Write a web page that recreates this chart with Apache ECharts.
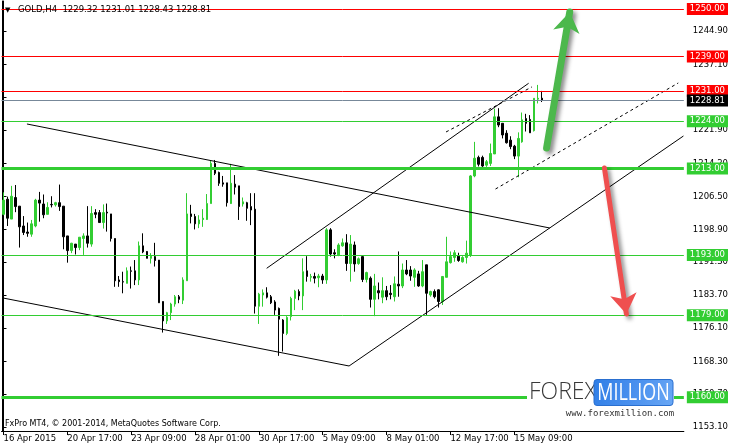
<!DOCTYPE html>
<html><head><meta charset="utf-8">
<script src="https://cdn.jsdelivr.net/npm/echarts@6/dist/echarts.min.js"></script>
<style>html,body{margin:0;padding:0;background:#fff}#c{width:731px;height:448px}</style>
</head><body><div id="c"></div><script>
// ---- data ----
const symbolName = 'GOLD,H4';
const opens = [1202.4,1205.9,1201.3,1206.3,1204.3,1199.7,1198.3,1197.8,1199.7,1205.7,1204.8,1202.4,1204.7,1204.6,1205.1,1204.3,1197.4,1194.0,1195.5,1194.7,1196.8,1197.4,1195.5,1202.8,1202.8,1200.5,1202.9,1202.5,1196.8,1187.2,1186.8,1186.4,1189.3,1189.3,1187.2,1195.1,1193.8,1192.2,1192.6,1191.8,1182.2,1177.7,1179.6,1181.6,1183.3,1182.5,1187.0,1202.5,1201.9,1200.2,1201.2,1201.2,1204.9,1214.2,1212.1,1209.7,1209.7,1204.9,1209.4,1209.0,1204.8,1205.1,1204.2,1203.6,1181.1,1183.7,1184.2,1183.3,1182.1,1180.6,1177.9,1174.8,1178.7,1182.9,1184.5,1183.5,1189.3,1187.8,1188.0,1187.7,1188.1,1187.2,1198.8,1193.5,1193.0,1195.1,1195.8,1191.0,1195.3,1191.0,1192.6,1187.3,1187.6,1182.7,1184.7,1183.2,1184.7,1184.1,1183.3,1186.2,1185.8,1189.5,1189.5,1187.8,1188.6,1185.8,1190.7,1183.7,1184.5,1184.9,1182.2,1187.8,1191.2,1192.4,1192.7,1191.4,1192.4,1193.0,1211.3,1215.6,1215.6,1213.8,1214.2,1216.4,1225.0,1223.5,1221.2,1219.6,1218.2,1215.9,1219.2,1224.6,1224.4,1221.8,1229.1,1229.32];
const highs = [1207.5,1206.5,1209.0,1209.2,1204.3,1202.0,1200.5,1201.1,1206.0,1207.6,1207.0,1205.2,1206.6,1205.3,1209.3,1204.3,1197.4,1195.8,1195.5,1197.1,1198.0,1204.3,1204.3,1203.6,1203.4,1204.7,1204.9,1202.5,1196.8,1188.1,1189.1,1190.1,1190.3,1191.8,1196.1,1198.0,1193.9,1193.4,1195.8,1191.8,1182.2,1179.8,1181.9,1183.7,1183.7,1187.8,1207.3,1204.6,1202.5,1202.2,1203.6,1207.1,1215.0,1215.0,1212.3,1211.3,1209.7,1214.1,1211.5,1209.0,1206.3,1205.3,1207.3,1207.3,1184.2,1185.0,1185.5,1183.7,1182.5,1180.8,1178.1,1178.8,1183.3,1184.9,1185.0,1192.2,1192.7,1188.6,1188.9,1188.6,1188.6,1199.2,1199.2,1194.3,1195.7,1196.8,1197.8,1197.6,1196.1,1192.4,1192.7,1189.1,1188.0,1188.6,1186.6,1187.8,1185.8,1186.0,1188.0,1193.8,1191.0,1191.8,1190.4,1189.9,1189.3,1191.8,1190.7,1184.7,1185.0,1185.0,1188.1,1197.2,1193.8,1194.1,1193.5,1192.7,1196.3,1211.5,1219.2,1216.0,1216.0,1215.0,1218.8,1226.9,1227.0,1223.5,1221.9,1220.5,1218.5,1221.4,1226.0,1225.7,1225.4,1229.3,1232.4,1231.01];
const lows = [1202.2,1199.7,1201.3,1202.9,1194.7,1197.6,1197.2,1197.2,1199.4,1200.7,1201.5,1202.4,1204.0,1204.2,1203.2,1194.3,1191.2,1193.4,1193.1,1194.1,1193.0,1194.7,1194.9,1201.5,1200.5,1199.1,1198.4,1196.1,1185.6,1185.6,1184.1,1186.4,1185.2,1186.0,1186.0,1193.4,1192.2,1191.0,1190.3,1181.9,1175.0,1177.0,1177.9,1181.0,1181.8,1181.6,1187.0,1200.3,1198.9,1199.2,1199.5,1201.1,1204.9,1211.5,1209.0,1208.8,1204.2,1204.8,1207.0,1201.1,1204.2,1200.9,1199.9,1179.4,1177.0,1181.0,1182.9,1181.6,1179.1,1169.6,1170.6,1174.4,1177.8,1180.2,1182.5,1180.2,1186.8,1186.8,1186.4,1185.5,1186.3,1186.3,1192.6,1192.2,1192.7,1194.9,1189.3,1186.8,1189.1,1190.7,1186.7,1186.6,1180.8,1178.8,1182.7,1181.8,1182.5,1182.7,1182.2,1183.3,1185.3,1188.3,1187.0,1185.6,1185.6,1185.5,1179.1,1183.3,1182.9,1180.8,1181.4,1187.8,1191.0,1191.4,1191.4,1191.2,1191.0,1192.5,1211.0,1213.5,1212.7,1213.4,1213.6,1216.4,1222.6,1220.0,1218.8,1217.5,1215.2,1211.0,1219.0,1221.6,1221.3,1221.6,1228.1,1228.43];
const closes = [1205.7,1201.5,1206.6,1204.2,1199.5,1198.2,1198.0,1200.2,1205.7,1205.0,1202.3,1204.0,1204.6,1205.1,1204.2,1197.2,1194.0,1195.7,1194.7,1197.1,1197.4,1195.7,1202.6,1202.4,1200.5,1202.8,1202.7,1196.8,1187.0,1186.8,1186.7,1189.3,1189.2,1187.2,1195.1,1193.7,1192.2,1192.7,1191.7,1181.9,1177.7,1179.6,1181.6,1183.3,1182.7,1187.2,1202.5,1201.9,1200.2,1201.1,1201.5,1204.9,1214.2,1211.9,1209.6,1209.4,1205.1,1209.6,1208.7,1204.2,1205.3,1203.8,1203.4,1181.1,1183.9,1184.2,1183.2,1181.9,1180.2,1178.1,1174.8,1178.5,1182.9,1184.6,1183.5,1189.1,1188.0,1188.0,1187.6,1188.1,1187.2,1198.8,1193.2,1193.2,1195.3,1195.8,1191.0,1195.5,1190.9,1192.1,1187.3,1188.9,1182.7,1185.8,1184.2,1184.7,1183.3,1183.8,1186.3,1185.8,1189.5,1188.6,1188.1,1189.5,1185.8,1189.1,1184.1,1184.5,1183.3,1182.2,1188.0,1191.4,1192.6,1193.5,1191.7,1192.4,1193.4,1211.3,1215.4,1214.0,1213.6,1214.6,1216.5,1225.0,1223.1,1220.8,1219.0,1218.1,1215.9,1220.0,1224.3,1223.5,1221.3,1229.3,1229.3,1228.81];
const barSlots = 171;
const tickStep = 16;
const tickLabels = ['16 Apr 2015','20 Apr 17:00','23 Apr 09:00','28 Apr 01:00','30 Apr 17:00','5 May 09:00','8 May 01:00','12 May 17:00','15 May 09:00'];
const priceTicks = [1244.9,1237.1,1229.5,1221.9,1214.2,1206.5,1198.9,1191.3,1183.7,1176.1,1168.3,1160.7,1153.1];
const priceMin = 1152.18, priceMax = 1251.85;
const redLevels = [1250, 1239, 1231];
const greenLevels = [1224, 1213, 1193, 1179, 1160];
const strongLevels = [1213, 1160];
const bidPrice = 1228.81;
const trendLines = [
  [[5.875,1223.34],[136.9,1199.23]],
  [[-0.125,1183.01],[86.6,1167.25]],
  [[86.6,1167.25],[170.4,1220.56]],
  [[65.95,1189.89],[131.6,1232.78]]
];
const dashedLines = [
  [[110.9,1221.49],[132.4,1231.92]],
  [[123.3,1208.27],[169.1,1232.85]]
];
const upArrow = [[136.1,1217.78],[141.9,1249.3]];
const downArrow = [[150.6,1213.14],[156.1,1179.3]];

// ---- chart ----
const FONT = 'DejaVu Sans';
const GREEN = '#32cd32';
const chart = echarts.init(document.getElementById('c'));
const candles = opens.map((o, i) => [o, closes[i], lows[i], highs[i]]);
const cats = Array.from({length: barSlots}, (_, i) => String(i));
const showTick = (i) => i % tickStep === 0 && i / tickStep < tickLabels.length;

function level(v, color, width, bg) {
  return {
    yAxis: v,
    lineStyle: {color: color, width: width, type: 'solid'},
    label: {show: true, position: 'end', distance: 3, formatter: v.toFixed(2),
      backgroundColor: bg, color: '#fff', padding: [2, 3, 1, 3],
      fontSize: 8.5, fontFamily: FONT}
  };
}
const levelData = [];
redLevels.forEach(v => levelData.push(level(v, '#ff0000', 1, '#ff0000')));
levelData.push(level(bidPrice, '#778899', 1, '#000000'));
greenLevels.forEach(v => levelData.push(level(v, GREEN, strongLevels.includes(v) ? 3 : 1, GREEN)));

const series = [{
  type: 'candlestick',
  xAxisIndex: 0, yAxisIndex: 0,
  data: candles,
  barWidth: 2,
  silent: true,
  itemStyle: {color: GREEN, color0: '#000', borderColor: GREEN, borderColor0: '#000', borderColorDoji: '#000', borderWidth: 1},
  markLine: {symbol: 'none', silent: true, animation: false, precision: 2, data: levelData},
  z: 3
}];
trendLines.forEach(l => series.push({
  type: 'line', xAxisIndex: 1, yAxisIndex: 0, data: l, symbol: 'none', silent: true,
  lineStyle: {color: '#000', width: 1}, z: 4
}));
dashedLines.forEach(l => series.push({
  type: 'line', xAxisIndex: 1, yAxisIndex: 0, data: l, symbol: 'none', silent: true,
  lineStyle: {color: '#000', width: 1, type: [3, 3]}, z: 4
}));
[[upArrow, '#4cb84c', 7], [downArrow, '#ef4f4f', 5]].forEach(([a, col, w]) => series.push({
  type: 'lines', coordinateSystem: 'cartesian2d', xAxisIndex: 1, yAxisIndex: 0,
  symbol: ['none', 'arrow'], symbolSize: [1, 20], silent: true,
  lineStyle: {color: col, width: w, opacity: 1, cap: 'round',
    shadowBlur: 4, shadowColor: 'rgba(0,0,0,0.45)', shadowOffsetX: 3, shadowOffsetY: 3},
  data: [{coords: a}], z: 6
}));

const last = opens.length - 1;
const header = symbolName + '  ' + [opens[last], highs[last], lows[last], closes[last]].map(v => v.toFixed(2)).join(' ');

chart.setOption({
  animation: false,
  backgroundColor: '#fff',
  grid: {left: 1.5, right: 45.5, top: 1, bottom: 17, containLabel: false},
  xAxis: [{
    type: 'category', data: cats, boundaryGap: true,
    axisLine: {show: true, lineStyle: {color: '#000', width: 1}},
    axisTick: {show: true, interval: showTick, alignWithLabel: true, length: 4, lineStyle: {color: '#000'}},
    axisLabel: {interval: showTick, formatter: (v, i) => tickLabels[i / tickStep] || '', align: 'left',
      margin: 3, color: '#000', fontSize: 8.5, fontFamily: FONT},
    splitLine: {show: false}
  }, {
    type: 'value', min: -0.5, max: barSlots - 0.5, show: false
  }],
  yAxis: [{
    type: 'value', position: 'right', min: priceMin, max: priceMax, offset: 2, scale: true,
    axisLine: {show: true, lineStyle: {color: '#000', width: 1}},
    axisTick: {show: true, length: 3, customValues: priceTicks, lineStyle: {color: '#000'}},
    axisLabel: {customValues: priceTicks, formatter: v => Number(v).toFixed(2), margin: 7,
      color: '#000', fontSize: 8.5, fontFamily: FONT},
    splitLine: {show: false}
  }, {
    type: 'value', position: 'left', min: priceMin, max: priceMax, offset: -1,
    axisLine: {show: true, lineStyle: {color: '#000', width: 1}},
    axisTick: {show: false}, axisLabel: {show: false}, splitLine: {show: false}
  }],
  series: series,
  graphic: [
    {type: 'text', x: 5, y: 10, z: 100, style: {text: '\u25BC', fontSize: 7, fontFamily: FONT, fill: '#000', align: 'left', verticalAlign: 'middle'}},
    {type: 'text', x: 18, y: 10, z: 100, style: {text: header, fontSize: 8.5, fontFamily: FONT, fill: '#000', align: 'left', verticalAlign: 'middle'}},
    {type: 'text', x: 5, y: 424, z: 100, style: {text: 'FxPro MT4, \u00A9 2001-2014, MetaQuotes Software Corp.', fontSize: 8, fontFamily: FONT, fill: '#000', align: 'left', verticalAlign: 'middle'}},
    {type: 'rect', z: 100, shape: {x: 527, y: 373, width: 147, height: 47}, style: {fill: '#fff'}},
    {type: 'text', z: 101, x: 529, y: 392, style: {text: 'FOREX', fontSize: 23, fontFamily: 'Open Sans', fontWeight: 300, fill: '#3a3a3a', align: 'left', verticalAlign: 'middle'}},
    {type: 'rect', z: 101, shape: {x: 594, y: 379.5, width: 79, height: 26, r: 3},
      style: {fill: new echarts.graphic.LinearGradient(0, 0, 1, 1, [{offset: 0, color: '#2f7ee6'}, {offset: 0.5, color: '#4a90ee'}, {offset: 1, color: '#6aa8f5'}]), stroke: '#2a6fcf', lineWidth: 1}},
    {type: 'text', z: 102, x: 633.5, y: 393, scaleX: 0.78, originX: 0, originY: 0, style: {text: 'MILLION', fontSize: 23, fontFamily: 'Open Sans', fill: '#fff', align: 'center', verticalAlign: 'middle'}},
    {type: 'text', z: 101, x: 620, y: 414, style: {text: 'www.forexmillion.com', fontSize: 9, fontFamily: 'DejaVu Sans Mono', fill: '#333', align: 'center', verticalAlign: 'middle'}}
  ]
});
</script></body></html>
